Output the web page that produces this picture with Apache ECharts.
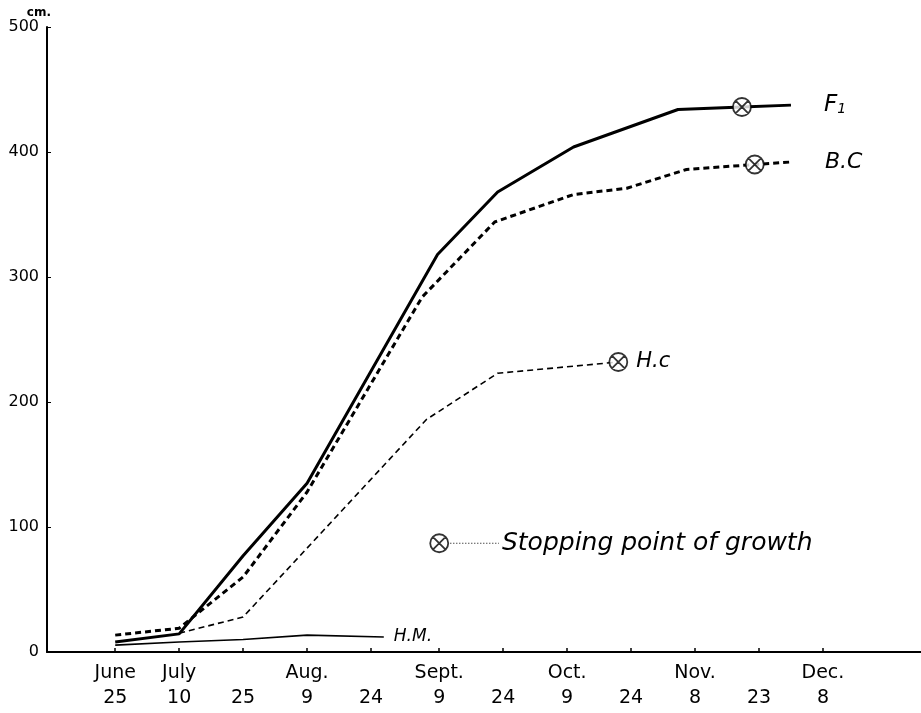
<!DOCTYPE html>
<html>
<head>
<meta charset="utf-8">
<script src="https://cdn.jsdelivr.net/npm/echarts@6/dist/echarts.min.js"></script>
<style>
html,body{margin:0;padding:0;background:#fff;}
#chart{width:921px;height:713px;}
</style>
</head>
<body>
<div id="chart"></div>
<script>
// x values are days after June 25
const tickDays = [0, 15, 30, 45, 60, 76, 91, 106, 121, 136, 151, 166];
const tickMonths = ['June', 'July', '', 'Aug.', '', 'Sept.', '', 'Oct.', '', 'Nov.', '', 'Dec.'];
const tickDates = ['25', '10', '25', '9', '24', '9', '24', '9', '24', '8', '23', '8'];
const yTicks = [0, 100, 200, 300, 400, 500];

const f1Days   = [0, 15, 30, 45, 75.6, 89.7, 107.5, 132, 147, 158.5];
const f1Values = [8, 14.5, 77, 135, 318, 368, 404, 434, 436, 437.5];

const bcDays   = [0, 15, 30, 45, 72, 89, 107.5, 120, 134, 150, 158.5];
const bcValues = [13.5, 19, 60, 128, 284, 344, 366, 371, 386, 390, 392];

const hcDays   = [15, 30, 73, 89.7, 118];
const hcValues = [15, 28, 186, 223, 232];

const hmDays   = [0, 15, 30, 45, 63];
const hmValues = [5.5, 8, 10, 13.5, 12];

const stopDays   = [147, 150, 118];
const stopValues = [436, 390, 232];

const keyDays   = [76, 78.6, 90];
const keyValues = [87, 87, 87];
const keyText = 'Stopping point of growth';

const pairs = (xs, ys) => xs.map((x, i) => [x, ys[i]]);
const crossCircle = 'path://M10,0A10,10,0,1,1,10,20A10,10,0,1,1,10,0ZM2.9,2.9L17.1,17.1M17.1,2.9L2.9,17.1';
const FONT = "'DejaVu Sans', sans-serif";

const chart = echarts.init(document.getElementById('chart'), null, {renderer: 'canvas'});
const labelStyle = {fontFamily: FONT, fontStyle: 'italic', color: '#000'};

chart.setOption({
  backgroundColor: '#fff',
  animation: false,
  grid: {left: 47, right: 0, top: 27, bottom: 61, containLabel: false},
  xAxis: {
    type: 'value', min: -16, max: 189,
    axisLine: {show: true, onZero: false, lineStyle: {color: '#000', width: 2}},
    axisTick: {show: true, inside: true, length: 4, customValues: tickDays, lineStyle: {color: '#000', width: 1.5}},
    splitLine: {show: false},
    axisLabel: {
      customValues: tickDays, margin: 9, color: '#000', fontFamily: FONT, fontSize: 19, lineHeight: 25,
      formatter: function (v) { const i = tickDays.indexOf(v); return i < 0 ? '' : tickMonths[i] + '\n' + tickDates[i]; }
    }
  },
  yAxis: {
    type: 'value', min: 0, max: 500, interval: 100,
    name: 'cm.', nameLocation: 'end', nameGap: 6,
    nameTextStyle: {color: '#000', fontFamily: FONT, fontSize: 12, fontWeight: 'bold', align: 'right', padding: [0, -4, 0, 0]},
    axisLine: {show: true, onZero: false, lineStyle: {color: '#000', width: 2}},
    axisTick: {show: true, inside: true, length: 4, lineStyle: {color: '#000'}},
    splitLine: {show: false},
    axisLabel: {customValues: yTicks, margin: 8, color: '#000', fontFamily: FONT, fontSize: 16}
  },
  series: [
    {
      name: 'F1', type: 'line', data: pairs(f1Days, f1Values), showSymbol: false,
      lineStyle: {color: '#000', width: 3},
      endLabel: {show: true, distance: 33, formatter: '{a|F}{s|1}',
        rich: {a: Object.assign({fontSize: 23}, labelStyle), s: Object.assign({fontSize: 14, padding: [8, 0, 0, 0]}, labelStyle)}}
    },
    {
      name: 'B.C', type: 'line', data: pairs(bcDays, bcValues), showSymbol: false,
      lineStyle: {color: '#000', width: 3, type: [6, 4]},
      endLabel: Object.assign({show: true, distance: 34, formatter: 'B.C', fontSize: 22}, labelStyle)
    },
    {
      name: 'H.c', type: 'line', data: pairs(hcDays, hcValues), showSymbol: false,
      lineStyle: {color: '#000', width: 1.6, type: [6, 4]},
      endLabel: Object.assign({show: true, distance: 18, formatter: 'H.c', fontSize: 21}, labelStyle)
    },
    {
      name: 'H.M.', type: 'line', data: pairs(hmDays, hmValues), showSymbol: false,
      lineStyle: {color: '#000', width: 1.6},
      endLabel: Object.assign({show: true, distance: 10, formatter: 'H.M.', fontSize: 17}, labelStyle)
    },
    {
      name: 'key line', type: 'line', data: pairs(keyDays.slice(1), keyValues.slice(1)), showSymbol: false,
      lineStyle: {color: '#000', width: 1, type: [1, 2]},
      endLabel: Object.assign({show: true, distance: 3, formatter: keyText, fontSize: 25}, labelStyle)
    },
    {
      name: 'stop', type: 'scatter', symbol: crossCircle, symbolSize: 18,
      data: pairs(stopDays, stopValues).concat([[keyDays[0], keyValues[0]]]),
      itemStyle: {color: '#fff', borderColor: '#000', borderWidth: 1.8}, z: 5
    }
  ]
});
</script>
</body>
</html>
